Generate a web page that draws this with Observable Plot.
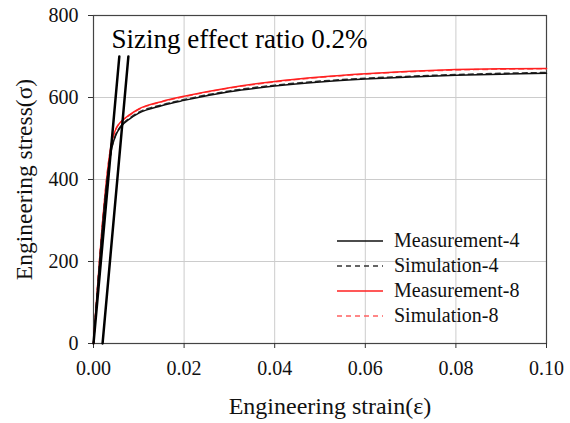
<!DOCTYPE html>
<html><head><meta charset="utf-8">
<script src="https://cdn.jsdelivr.net/npm/d3@7"></script>
<script src="https://cdn.jsdelivr.net/npm/@observablehq/plot@0.6"></script>
<style>
body{margin:0;background:#fff;font-family:"Liberation Serif",serif;}
#wrap{position:relative;width:570px;height:423px;}
#chart svg, #chart svg text{font-family:"Liberation Serif",serif !important;}
#legend{position:absolute;left:337px;top:228px;font-size:20px;line-height:25px;color:#111;font-family:"Liberation Serif",serif;}
#legend div{display:flex;align-items:center;height:25px;}
#legend svg{margin-right:11px;}
</style></head>
<body><div id="wrap"><div id="chart"></div><div id="legend"></div></div>
<script>
const strain = [0, 0.0041, 0.005, 0.006, 0.008, 0.01, 0.015, 0.02, 0.03, 0.04, 0.05, 0.06, 0.07, 0.08, 0.09, 0.10];
const meas4 = [0, 480, 510, 528, 548, 562, 580, 593, 614, 628, 638, 645, 650, 654, 657, 659];
const sim4  = [0, 480, 512, 530, 550, 564, 582, 595, 616, 630, 640, 647, 652, 656, 659, 661];
const meas8 = [0, 495, 525, 540, 558, 572, 590, 603, 624, 639, 650, 658, 664, 668, 670, 671];
const sim8  = [0, 495, 524, 539, 557, 571, 589, 602, 623, 638, 649, 657, 663, 667, 669, 670];
const seriesNames = ["Measurement-4","Simulation-4","Measurement-8","Simulation-8"];
const seriesColors = ["#111","#333","#ff2020","#ff6060"];
const seriesDash = [null,"5,4",null,"5,4"];
const offsetLineStrain = [[0, 0.0057],[0.002, 0.0077]];
const offsetLineStress = [0, 700];
const xTicks = [0, 0.02, 0.04, 0.06, 0.08, 0.10];
const yTicks = [0, 200, 400, 600, 800];
const annotation = "Sizing effect ratio 0.2%";
const xLabel = "Engineering strain(ε)";
const yLabel = "Engineering stress(σ)";

const allSeries = [meas4, sim4, meas8, sim8];
const rows = [];
allSeries.forEach((s,i)=>s.forEach((v,j)=>rows.push({x:strain[j], y:v, k:i})));
const offRows = [];
offsetLineStrain.forEach((pair,i)=>pair.forEach((x,j)=>offRows.push({x, y:offsetLineStress[j], k:i})));

const marks = [
  Plot.gridX(xTicks, {stroke:"#ccc", strokeOpacity:1, strokeWidth:1}),
  Plot.gridY(yTicks, {stroke:"#ccc", strokeOpacity:1, strokeWidth:1}),
  Plot.frame({stroke:"#444", strokeWidth:1.2}),
  Plot.axisX({ticks:xTicks, tickFormat:d3.format(".2f"), tickSize:5, tickPadding:12, fontSize:20, label:null, stroke:"#333"}),
  Plot.axisY({ticks:yTicks, tickFormat:d3.format("d"), tickSize:5, tickPadding:10, fontSize:20, label:null, stroke:"#333"}),
];
[3,2,1,0].forEach(i=>{
  marks.push(Plot.line(rows.filter(r=>r.k===i), {x:"x", y:"y", stroke:seriesColors[i], strokeWidth:1.5, strokeDasharray:seriesDash[i], curve:"monotone-x"}));
});
marks.push(Plot.line(offRows, {x:"x", y:"y", z:"k", stroke:"#000", strokeWidth:2.5}));
marks.push(Plot.text([annotation], {frameAnchor:"top-left", dx:18, dy:13, fontSize:27, textAnchor:"start", fill:"#000"}));
marks.push(Plot.text([xLabel], {frameAnchor:"bottom", dx:10, dy:70, fontSize:24, fill:"#111"}));
marks.push(Plot.text([yLabel], {frameAnchor:"left", dx:-69, rotate:-90, textAnchor:"middle", fontSize:23.5, fill:"#111"}));

const chart = Plot.plot({
  width:570, height:423,
  marginLeft:93, marginRight:24, marginTop:15, marginBottom:80,
  x:{domain:[0,0.10]}, y:{domain:[0,800]},
  style:{fontFamily:"Liberation Serif, serif", color:"#111", background:"#fff", overflow:"visible"},
  marks
});
document.getElementById("chart").appendChild(chart);

const leg = document.getElementById("legend");
seriesNames.forEach((n,i)=>{
  const d = document.createElement("div");
  d.innerHTML = `<svg width="46" height="4"><line x1="0" x2="46" y1="2" y2="2" stroke="${seriesColors[i]}" stroke-width="1.3" ${seriesDash[i]?`stroke-dasharray="${seriesDash[i]}"`:""}/></svg><span>${n}</span>`;
  leg.appendChild(d);
});
</script></body></html>
